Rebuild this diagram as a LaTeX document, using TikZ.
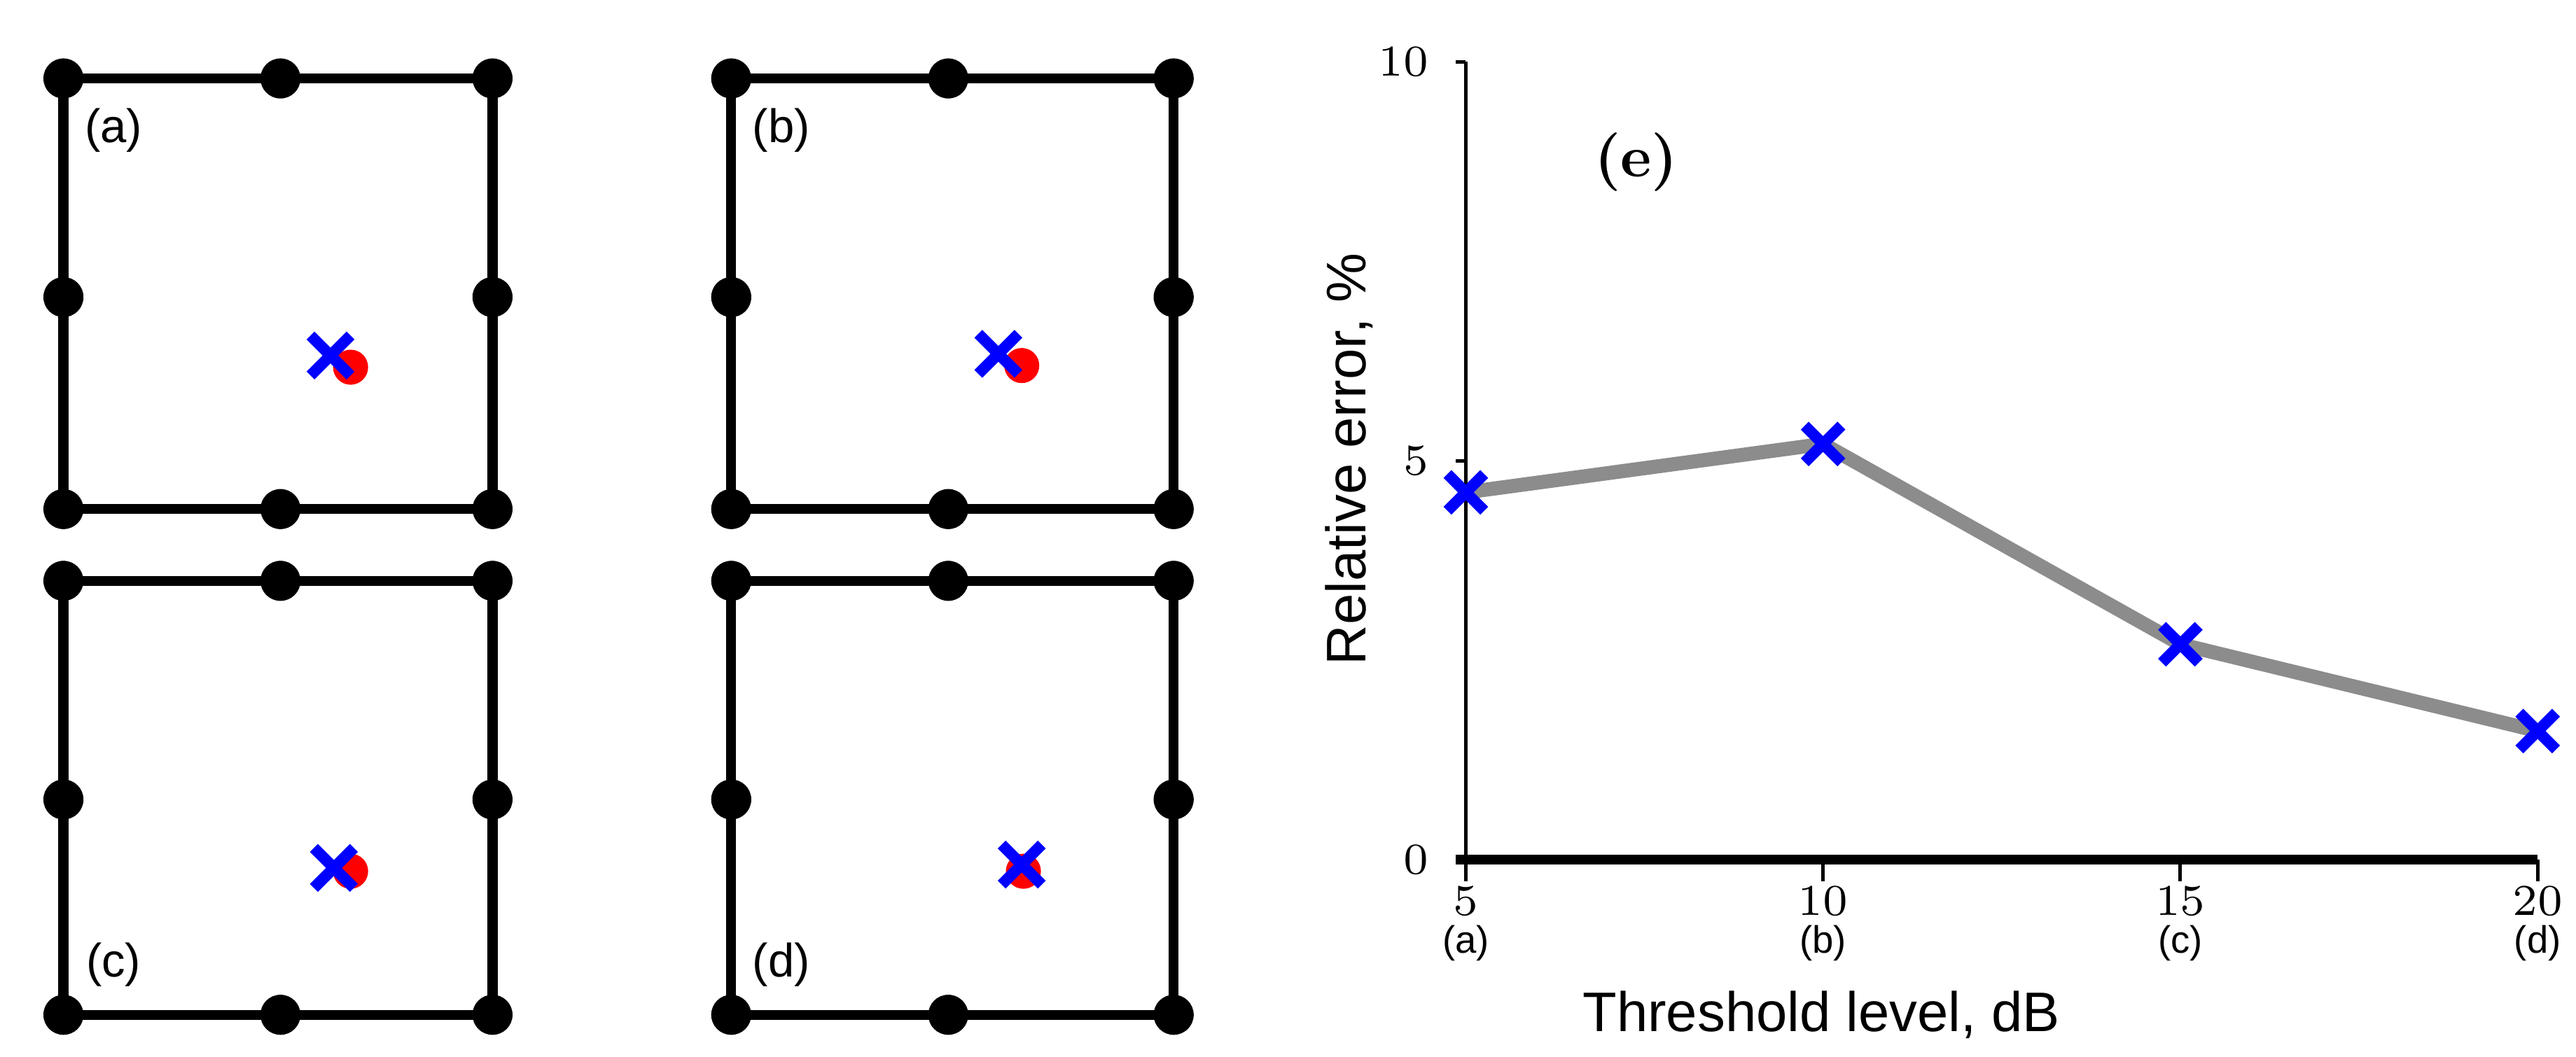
\documentclass[tikz,border=0pt]{standalone}
\usepackage{fontspec}
\setmainfont{Latin Modern Roman}
\newfontfamily\plotsans{Liberation Sans}
\usetikzlibrary{positioning, calc}

\begin{document}
\begin{tikzpicture}[
        x=0.01cm, y=-0.01cm,
        frame/.style={line width=1.7pt, black},
        joint/.style={circle, fill=black, inner sep=0pt, minimum size=0.24cm},
        target/.style={circle, fill=red, inner sep=0pt, minimum size=0.21cm},
        guess/.style={blue, line width=1.9pt},
        panellabel/.style={font=\plotsans\fontsize{8}{9}\selectfont},
        smalllabel/.style={font=\plotsans\fontsize{6.5}{7}\selectfont},
        ticklabel/.style={font=\fontsize{7.5}{8}\selectfont},
        axislabel/.style={font=\plotsans\fontsize{9.5}{11}\selectfont}
    ]
    \useasboundingbox (0,0) rectangle (1543,633);

    % --- Microphone frames (a)-(d) ---
    \foreach \name/\xa/\xb/\ya/\yb/\cx/\cy/\rx/\ry/\lx/\ly in {
        a/38/295/47/305/198/213/210/220/68/78,
        b/438/703/47/305/598/212/612/219/468/78,
        c/38/295/348/608/200/520/210/522/68/578,
        d/438/703/348/608/612/518/613/522/468/578} {
        \draw[frame] (\xa,\ya) rectangle (\xb,\yb);
        \foreach \px/\py [count=\k] in {\xa/\ya, 168+\xa-38/\ya, \xb/\ya, \xa/178+\ya-47, \xb/178+\ya-47, \xa/\yb, 168+\xa-38/\yb, \xb/\yb}
            \node[joint] (m\name\k) at (\px,\py) {};
        \node[target] (src\name) at (\rx,\ry) {};
        \node (est\name) at (\cx,\cy) {};
        \draw[guess] ($(\cx,\cy)+(-12,-12)$) -- ++(24,24) ($(\cx,\cy)+(-12,12)$) -- ++(24,-24);
        \node[panellabel] (lab\name) at (\lx,\ly) {(\name)};
    }

    % --- Error plot (e) ---
    \coordinate (origin) at (878,515);
    \draw[line width=0.6pt] (878,37) -- (origin);
    \draw[line width=1.6pt] (872,515) -- (1520,515);
    \foreach \v/\py in {0/515, 5/276, 10/37} {
        \draw[line width=0.6pt] (872,\py) -- (878,\py);
        \node[ticklabel, anchor=east] (yt\v) at (868,\py) {\v};
    }
    \foreach \v/\px/\tag in {5/878/a, 10/1092/b, 15/1306/c, 20/1520/d} {
        \draw[line width=0.6pt] (\px,515) -- (\px,528);
        \node[ticklabel] (xt\v) at (\px,540) {\v};
        \node[smalllabel] (xl\tag) at (\px,565) {(\tag)};
    }
    \node[font=\bfseries\fontsize{10}{12}\selectfont] (tagE) at (980,97) {(e)};
    \node[axislabel, rotate=90] (ylab) at (808,275) {Relative error, \%};
    \node[axislabel] (xlab) at (1091,608) {Threshold level, dB};

    \coordinate (p1) at (878,295);
    \coordinate (p2) at (1092,266);
    \coordinate (p3) at (1306,386);
    \coordinate (p4) at (1520,438);
    \draw[line width=2.4pt, gray!90] (p1) -- (p2) -- (p3) -- (p4);
    \foreach \p in {p1,p2,p3,p4}
        \draw[guess] ($(\p)+(-11,-11)$) -- ++(22,22) ($(\p)+(-11,11)$) -- ++(22,-22);
\end{tikzpicture}
\end{document}
